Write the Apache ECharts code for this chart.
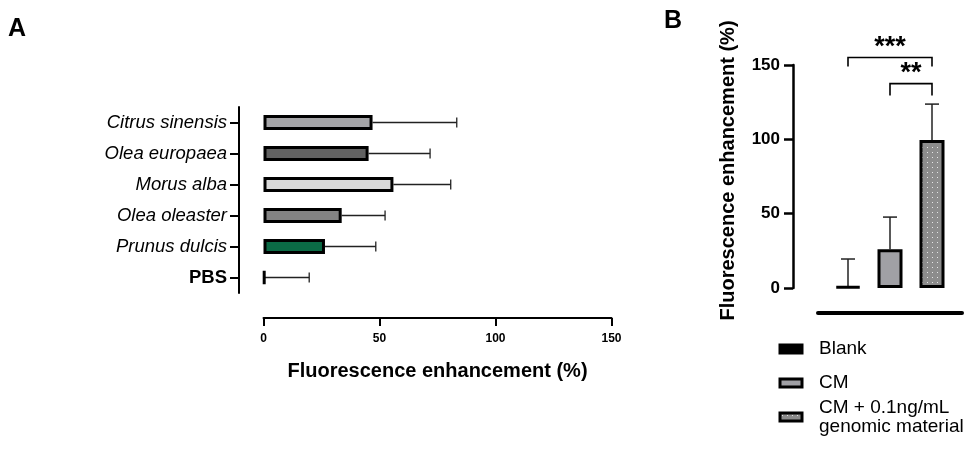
<!DOCTYPE html>
<html>
<head>
<meta charset="utf-8">
<script src="https://cdn.jsdelivr.net/npm/echarts@6/dist/echarts.min.js"></script>
<style>
  html, body { margin: 0; padding: 0; background: #fff; }
  #chart { width: 972px; height: 450px; }
</style>
</head>
<body>
<div id="chart"></div>
<script>
// panel A - plant extracts
const plantNames = ["Citrus sinensis", "Olea europaea", "Morus alba", "Olea oleaster", "Prunus dulcis", "PBS"];
const plantMeans = [47, 45.3, 56, 33.7, 26.5, 0.6];
const plantUpper = [83.3, 71.8, 80.7, 52.4, 48.4, 19.7];
const plantColors = ["#a5a5a8", "#626262", "#d9d9d9", "#838383", "#0b6a45", "#000000"];

// panel B - controls
const groupNames = ["Blank", "CM", "CM + 0.1ng/mL genomic material"];
const groupMeans = [1, 26, 99.5];
const groupUpper = [19.5, 47.7, 123.7];
// [from, to, bracket y, leg bottom y, stars]
const sigBrackets = [[0, 2, 155, 149, "***"], [1, 2, 137.5, 129.5, "**"]];

const FONT = "Liberation Sans, Arial, sans-serif";

// grey fill with white dots for the last bar
function dotPattern() {
  const c = document.createElement("canvas");
  c.width = 5; c.height = 5;
  const g = c.getContext("2d");
  g.fillStyle = "#8c8c8c";
  g.fillRect(0, 0, 5, 5);
  g.fillStyle = "#e6e6e6";
  g.fillRect(2, 2, 1, 1);
  return c;
}
const groupColors = ["#000000", "#a0a0a5", { image: dotPattern(), repeat: "repeat" }];

const chart = echarts.init(document.getElementById("chart"), null, { renderer: "canvas" });

// horizontal error bars (panel A)
function hErrorBar(params, api) {
  const y = api.coord([0, api.value(0)])[1];
  const x0 = api.coord([api.value(1), api.value(0)])[0];
  const x1 = api.coord([api.value(2), api.value(0)])[0];
  const st = { stroke: "#222", lineWidth: 1.3 };
  return {
    type: "group",
    children: [
      { type: "line", shape: { x1: x0, y1: y, x2: x1, y2: y }, style: st },
      { type: "line", shape: { x1: x1, y1: y - 5, x2: x1, y2: y + 5 }, style: st }
    ]
  };
}

// vertical error bars (panel B)
function vErrorBar(params, api) {
  const x = api.coord([api.value(0), 0])[0];
  const y0 = api.coord([api.value(0), api.value(1)])[1];
  const y1 = api.coord([api.value(0), api.value(2)])[1];
  const st = { stroke: "#222", lineWidth: 1.5 };
  return {
    type: "group",
    children: [
      { type: "line", shape: { x1: x, y1: y0, x2: x, y2: y1 }, style: st },
      { type: "line", shape: { x1: x - 7, y1: y1, x2: x + 7, y2: y1 }, style: st }
    ]
  };
}

// significance brackets (panel B)
function bracket(params, api) {
  const b = sigBrackets[params.dataIndex];
  const pA = api.coord([b[0], b[2]]);
  const pB = api.coord([b[1], b[2]]);
  const yLeg = api.coord([b[0], b[3]])[1];
  const st = { stroke: "#000", lineWidth: 1.6, fill: null };
  return {
    type: "group",
    children: [
      { type: "polyline", shape: { points: [[pA[0], yLeg], [pA[0], pA[1]], [pB[0], pB[1]], [pB[0], yLeg]] }, style: st },
      {
        type: "text",
        x: (pA[0] + pB[0]) / 2,
        y: pA[1] - 10,
        style: { text: b[4], font: "bold 27px " + FONT, fill: "#000", align: "center", verticalAlign: "middle" }
      }
    ]
  };
}

const option = {
  animation: false,
  textStyle: { fontFamily: FONT },
  title: [
    { text: "A", left: 8, top: 17, padding: 0, textStyle: { fontSize: 25, fontWeight: "bold", color: "#000", fontFamily: FONT } },
    { text: "B", left: 664, top: 9, padding: 0, textStyle: { fontSize: 25, fontWeight: "bold", color: "#000", fontFamily: FONT } }
  ],
  grid: [
    { left: 263.5, width: 348, top: 107, height: 186 },
    { left: 827, width: 126, top: 65, height: 223 },
    { left: 818, width: 144, top: 65, height: 223 }
  ],
  xAxis: [
    {
      gridIndex: 0, type: "value", min: 0, max: 150, interval: 50, offset: 25,
      axisLine: { show: true, onZero: false, lineStyle: { color: "#000", width: 2 } },
      axisTick: { show: true, length: 8, lineStyle: { color: "#000", width: 2 } },
      axisLabel: { fontSize: 12, fontWeight: "bold", color: "#000", margin: 15 },
      splitLine: { show: false },
      name: "Fluorescence enhancement (%)", nameLocation: "middle", nameGap: 43,
      nameTextStyle: { fontSize: 20, fontWeight: "bold", color: "#000" }
    },
    { gridIndex: 1, type: "category", data: groupNames, show: false },
    {
      gridIndex: 2, type: "category", data: [""], offset: 25,
      axisLine: { show: true, onZero: false, lineStyle: { color: "#000", width: 4 } },
      axisTick: { show: false }, axisLabel: { show: false }
    }
  ],
  yAxis: [
    {
      gridIndex: 0, type: "category", inverse: true, offset: 24.5,
      data: plantNames.map(n => n === "PBS"
        ? { value: n, textStyle: { fontStyle: "normal", fontWeight: "bold" } }
        : { value: n, textStyle: { fontStyle: "italic" } }),
      axisLine: { show: true, onZero: false, lineStyle: { color: "#000", width: 2 } },
      axisTick: { show: true, alignWithLabel: true, length: 9, lineStyle: { color: "#000", width: 2 } },
      axisLabel: { fontSize: 18.5, color: "#000", margin: 12 }
    },
    {
      gridIndex: 1, type: "value", min: 0, max: 150, interval: 50, offset: 34,
      axisLine: { show: true, onZero: false, lineStyle: { color: "#000", width: 2.5 } },
      axisTick: { show: true, length: 9, lineStyle: { color: "#000", width: 2.5 } },
      axisLabel: { fontSize: 17, fontWeight: "bold", color: "#000", margin: 13 },
      splitLine: { show: false },
      name: "Fluorescence enhancement (%)", nameLocation: "middle", nameGap: 55, nameRotate: 90,
      nameTextStyle: { fontSize: 20, fontWeight: "bold", color: "#000", padding: [0, 0, 0, 12] }
    },
    { gridIndex: 2, type: "value", show: false }
  ],
  legend: [
    {
      data: groupNames.slice(0, 2), orient: "vertical", left: 778.5, top: 339, padding: 0,
      itemWidth: 22, itemHeight: 8, itemGap: 14, icon: "rect", selectedMode: false,
      itemStyle: { borderColor: "#000", borderWidth: 3 },
      textStyle: { fontSize: 19, color: "#000", lineHeight: 20, padding: [0, 0, 0, 12] }
    },
    {
      data: [groupNames[2]], orient: "vertical", left: 778.5, top: 398, padding: 0,
      itemWidth: 22, itemHeight: 8, icon: "rect", selectedMode: false,
      itemStyle: { borderColor: "#000", borderWidth: 3 },
      formatter: () => "CM + 0.1ng/mL\ngenomic material",
      textStyle: { fontSize: 19, color: "#000", lineHeight: 19, padding: [0, 0, 0, 12] }
    }
  ],
  series: [
    {
      type: "bar", xAxisIndex: 0, yAxisIndex: 0, barWidth: 15,
      data: plantMeans.map((v, i) => ({ value: v, itemStyle: { color: plantColors[i] } })),
      itemStyle: { borderColor: "#000", borderWidth: 3 }, z: 3
    },
    {
      type: "custom", xAxisIndex: 0, yAxisIndex: 0, renderItem: hErrorBar, z: 2,
      data: plantNames.map((n, i) => [i, plantMeans[i], plantUpper[i]])
    },
    ...groupNames.map((name, i) => ({
      name: name, type: "bar", xAxisIndex: 1, yAxisIndex: 1, barWidth: 25, stack: "b",
      data: groupMeans.map((v, j) => (j === i ? v : "-")),
      itemStyle: { color: groupColors[i], borderColor: "#000", borderWidth: 3 }, z: 3
    })),
    {
      type: "custom", xAxisIndex: 1, yAxisIndex: 1, renderItem: vErrorBar, z: 2,
      data: groupNames.map((n, i) => [i, groupMeans[i], groupUpper[i]])
    },
    {
      type: "custom", xAxisIndex: 1, yAxisIndex: 1, renderItem: bracket, clip: false, z: 4,
      data: sigBrackets.map(b => [b[0], b[2]])
    }
  ]
};

chart.setOption(option);
</script>
</body>
</html>
